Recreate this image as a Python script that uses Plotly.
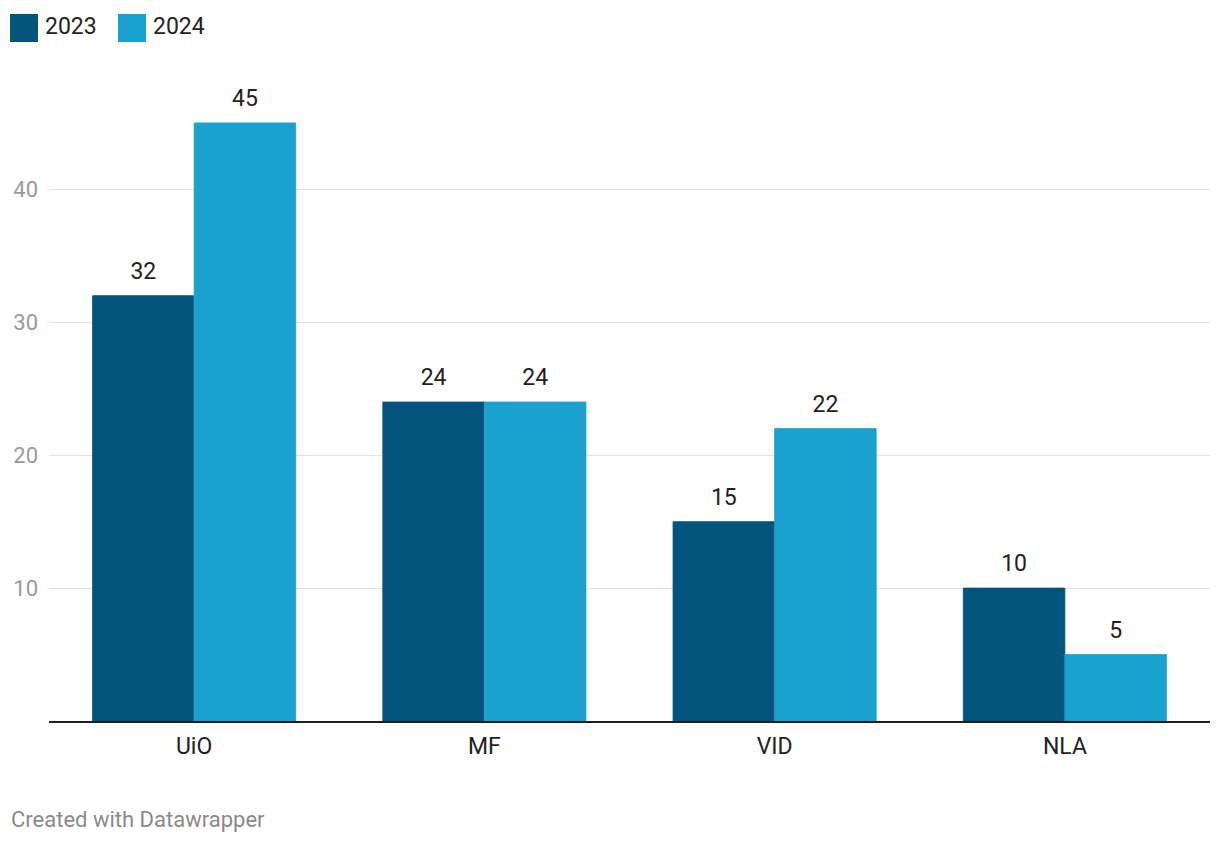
import plotly.graph_objects as go

categories = ["UiO", "MF", "VID", "NLA"]
values_2023 = [32, 24, 15, 10]
values_2024 = [45, 24, 22, 5]
series_names = ["2023", "2024"]
colors = ["#03547c", "#1aa1cd"]
ytick_vals = [10, 20, 30, 40]

W, H = 1220, 844
ML, MR, MT, MB = 49, 10, 83, 123
PW, PH = W - ML - MR, H - MT - MB

def px_x(p):
    return (p - ML) / PW

def px_y(p):
    return 1 - (p - MT) / PH

FONT = "Roboto, Arial, sans-serif"

fig = go.Figure()
for name, vals, col in zip(series_names, [values_2023, values_2024], colors):
    fig.add_trace(go.Bar(
        x=categories, y=vals, name=name,
        marker=dict(color=col, line=dict(width=0.8, color=col)),
        showlegend=False,
    ))
# value labels, grouped like the bars
for name, vals in zip(series_names, [values_2023, values_2024]):
    fig.add_trace(go.Scatter(
        x=categories, y=vals, mode="markers+text", text=[str(v) for v in vals],
        textposition="top center", marker=dict(size=16, opacity=0),
        textfont=dict(family=FONT, size=23, color="#222222"),
        showlegend=False, hoverinfo="skip", cliponaxis=False,
    ))

shapes = []
annotations = []
# custom legend
for i, (name, col) in enumerate(zip(series_names, colors)):
    x0 = 10 + i * 108
    shapes.append(dict(type="rect", xref="paper", yref="paper",
                       x0=px_x(x0), x1=px_x(x0 + 28), y0=px_y(42), y1=px_y(14),
                       fillcolor=col, line=dict(width=0)))
    annotations.append(dict(xref="paper", yref="paper", x=px_x(x0 + 33), y=px_y(27),
                            xanchor="left", yanchor="middle", showarrow=False,
                            text=name, font=dict(family=FONT, size=23, color="#222222")))

annotations.append(dict(xref="paper", yref="paper", x=px_x(9), y=px_y(819),
                        xanchor="left", yanchor="middle", showarrow=False,
                        text="Created with Datawrapper",
                        font=dict(family=FONT, size=22, color="#8a8a8a")))

fig.update_layout(
    width=W, height=H,
    margin=dict(l=ML, r=MR, t=MT, b=MB, pad=0),
    paper_bgcolor="white", plot_bgcolor="white",
    barmode="group", bargap=0.3, bargroupgap=0,
    scattermode="group", scattergap=0.3,
    font=dict(family=FONT, size=22, color="#222222"),
    shapes=shapes, annotations=annotations,
    xaxis=dict(showline=True, linecolor="#1d1d1d", linewidth=2, ticks="",
               tickfont=dict(family=FONT, size=23, color="#222222"),
               ticklabelstandoff=3,
               showgrid=False, zeroline=False),
    yaxis=dict(range=[0, 48], tickvals=ytick_vals, showgrid=True, gridcolor="#e3e3e3",
               gridwidth=1, zeroline=False, showline=False, ticks="",
               tickfont=dict(family=FONT, size=22, color="#9a9a9a"),
               ticklabelstandoff=10),
)

fig.write_html("out.html")
